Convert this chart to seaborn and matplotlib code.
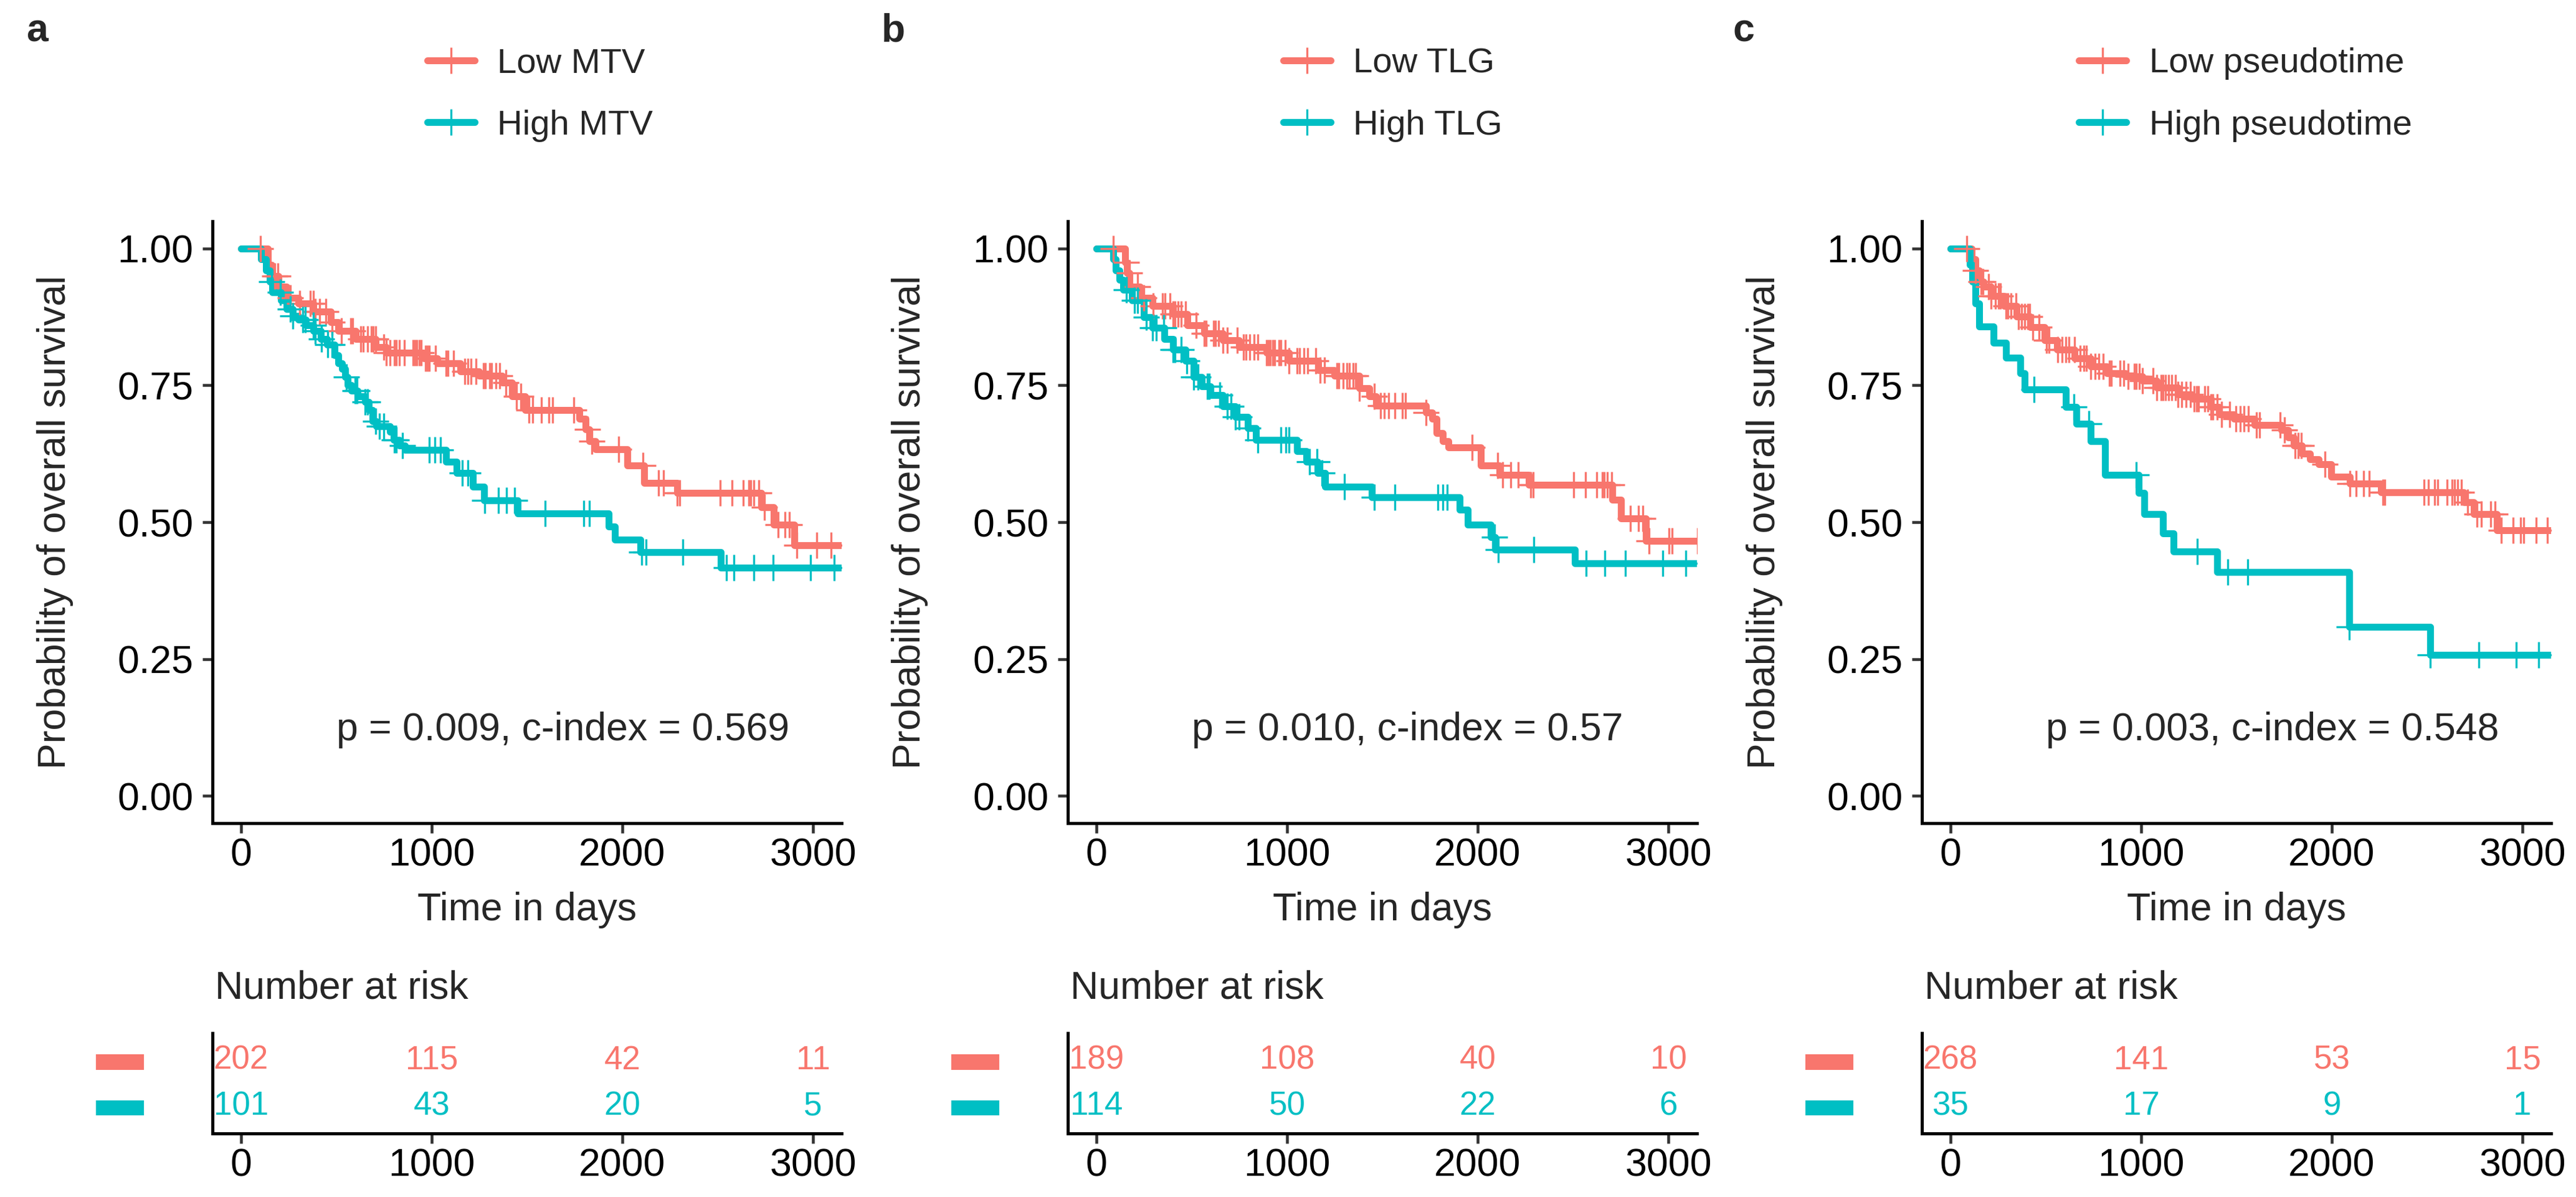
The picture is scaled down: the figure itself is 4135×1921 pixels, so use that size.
import numpy as np
import matplotlib
matplotlib.use("Agg")
import matplotlib.pyplot as plt
import matplotlib.transforms as mtransforms
from matplotlib.patches import Rectangle
from matplotlib.lines import Line2D
import seaborn as sns

sns.set_theme(style="ticks")
plt.rcParams["font.family"] = ["Liberation Sans", "DejaVu Sans"]

RED = "#F8766D"
TEAL = "#00BFC4"

# ---------------- data ----------------
panel_letters = ["a", "b", "c"]
low_labels = ["Low MTV", "Low TLG", "Low pseudotime"]
high_labels = ["High MTV", "High TLG", "High pseudotime"]
pval_texts = ["p = 0.009, c-index = 0.569",
              "p = 0.010, c-index = 0.57",
              "p = 0.003, c-index = 0.548"]
follow_up_end = 3200

# Panel a
a_low_t = [0, 140, 160, 195, 240, 300, 380, 470, 510, 600, 706, 760, 956, 1031, 1151, 1250, 1370,
           1423, 1489, 1773, 1806, 1828, 1861, 2025, 2113, 2289, 2729, 2795, 2902]
a_low_s = [1.0, 0.97, 0.95, 0.93, 0.91, 0.90, 0.885, 0.865, 0.85, 0.835, 0.82, 0.81, 0.80, 0.79, 0.775,
           0.768, 0.755, 0.73, 0.705, 0.689, 0.670, 0.648, 0.633, 0.604, 0.572, 0.553, 0.527, 0.496, 0.458]
a_low_cens = [102, 178, 194, 260, 309, 363, 379, 390, 412, 444, 477, 526, 575, 586, 629, 640, 662, 684,
              694, 705, 749, 760, 781, 803, 814, 830, 857, 901, 912, 923, 934, 944, 966, 977, 988, 1020,
              1075, 1086, 1113, 1173, 1189, 1205, 1232, 1270, 1281, 1303, 1314, 1336, 1357, 1390, 1444,
              1466, 1510, 1531, 1575, 1613, 1635, 1745, 1817, 1839, 1981, 2107, 2190, 2217, 2289, 2300,
              2514, 2574, 2635, 2662, 2673, 2690, 2717, 2744, 2816, 2854, 2876, 2915, 3019, 3096, 3167]
a_high_t = [0, 105, 130, 150, 165, 210, 240, 270, 300, 340, 380, 420, 450, 490, 510, 530, 545, 560, 580,
            610, 650, 670, 690, 710, 780, 800, 830, 860, 1075, 1130, 1215, 1275, 1450, 1927, 1960, 2095, 2517]
a_high_s = [1.0, 0.98, 0.96, 0.94, 0.92, 0.905, 0.89, 0.877, 0.87, 0.86, 0.85, 0.835, 0.825, 0.805, 0.79,
            0.78, 0.765, 0.75, 0.74, 0.73, 0.72, 0.705, 0.685, 0.675, 0.665, 0.65, 0.64, 0.632, 0.61, 0.59,
            0.565, 0.54, 0.516, 0.492, 0.468, 0.445, 0.417]
a_high_cens = [162, 205, 260, 271, 325, 336, 379, 390, 423, 455, 477, 553, 597, 607, 651, 662, 705, 727,
               749, 803, 815, 847, 988, 1015, 1047, 1161, 1190, 1278, 1350, 1392, 1435, 1595, 1797, 1826,
               2100, 2123, 2316, 2546, 2585, 2690, 2791, 2987, 3110]
a_risk_low = [202, 115, 42, 11]
a_risk_high = [101, 43, 20, 5]

# Panel b
b_low_t = [0, 150, 160, 175, 228, 293, 402, 478, 565, 663, 750, 891, 1010, 1163, 1250, 1380, 1430, 1467,
           1730, 1763, 1785, 1818, 1845, 2015, 2114, 2268, 2707, 2751, 2883]
b_low_s = [1.0, 0.975, 0.955, 0.93, 0.91, 0.895, 0.88, 0.86, 0.845, 0.832, 0.82, 0.81, 0.795, 0.778, 0.768,
           0.745, 0.73, 0.713, 0.70, 0.689, 0.663, 0.648, 0.637, 0.604, 0.587, 0.568, 0.541, 0.507, 0.466]
b_low_cens = [87, 158, 174, 217, 250, 299, 348, 359, 386, 402, 413, 429, 446, 467, 522, 565, 576, 614, 625,
              641, 663, 685, 739, 772, 783, 804, 826, 848, 891, 902, 913, 924, 935, 956, 967, 989, 1011,
              1054, 1065, 1087, 1109, 1152, 1173, 1195, 1261, 1272, 1293, 1315, 1326, 1348, 1359, 1380,
              1456, 1489, 1511, 1532, 1565, 1603, 1620, 1730, 1971, 2103, 2130, 2174, 2213, 2279, 2290,
              2504, 2564, 2625, 2652, 2663, 2680, 2701, 2800, 2844, 2866, 2899, 3003, 3020, 3152]
b_high_t = [0, 87, 100, 120, 141, 185, 250, 293, 358, 402, 467, 511, 554, 598, 663, 728, 793, 837, 1054,
            1100, 1160, 1200, 1445, 1905, 1949, 2070, 2092, 2509]
b_high_s = [1.0, 0.98, 0.96, 0.943, 0.925, 0.905, 0.875, 0.855, 0.835, 0.815, 0.795, 0.765, 0.748, 0.732,
            0.712, 0.692, 0.672, 0.65, 0.63, 0.61, 0.59, 0.565, 0.546, 0.523, 0.496, 0.473, 0.45, 0.425]
b_high_cens = [158, 201, 217, 261, 293, 315, 353, 402, 413, 446, 473, 511, 533, 581, 592, 647, 685, 706,
               728, 750, 793, 848, 967, 994, 1011, 1119, 1157, 1183, 1300, 1458, 1565, 1790, 1818, 1840,
               2087, 2109, 2295, 2570, 2668, 2773, 2970, 3091]
b_risk_low = [189, 108, 40, 10]
b_risk_high = [114, 50, 22, 6]

# Panel c
c_low_t = [0, 110, 130, 150, 175, 214, 280, 345, 420, 495, 560, 650, 735, 820, 920, 1007, 1083, 1192,
           1268, 1366, 1410, 1486, 1594, 1735, 1770, 1800, 1844, 1887, 1931, 1996, 2094, 2257, 2692,
           2746, 2866]
c_low_s = [1.0, 0.98, 0.96, 0.94, 0.93, 0.913, 0.895, 0.876, 0.856, 0.832, 0.815, 0.799, 0.785, 0.772,
           0.766, 0.758, 0.746, 0.734, 0.726, 0.711, 0.697, 0.689, 0.678, 0.669, 0.655, 0.64, 0.625, 0.615,
           0.606, 0.583, 0.571, 0.555, 0.536, 0.515, 0.485]
c_low_cens = [84, 132, 160, 171, 198, 214, 236, 252, 263, 290, 301, 317, 344, 355, 372, 388, 404, 415,
              431, 464, 502, 518, 562, 584, 605, 622, 649, 681, 698, 714, 736, 757, 779, 801, 833, 844,
              888, 910, 931, 964, 975, 991, 1007, 1062, 1083, 1105, 1116, 1127, 1143, 1160, 1181, 1192,
              1214, 1236, 1258, 1279, 1290, 1301, 1334, 1350, 1366, 1377, 1399, 1421, 1464, 1496, 1518,
              1540, 1562, 1605, 1621, 1730, 1752, 1806, 1822, 1839, 1964, 2094, 2127, 2165, 2197, 2268,
              2279, 2485, 2507, 2540, 2556, 2605, 2632, 2643, 2659, 2681, 2713, 2762, 2784, 2833, 2855,
              2887, 2952, 2991, 3007, 3072, 3132]
c_high_t = [0, 100, 115, 130, 150, 225, 290, 366, 388, 605, 660, 736, 812, 986, 1018, 1116, 1170, 1399,
            2091, 2517]
c_high_s = [1.0, 0.97, 0.94, 0.90, 0.858, 0.828, 0.801, 0.772, 0.742, 0.711, 0.680, 0.648, 0.587, 0.554,
            0.515, 0.48, 0.447, 0.409, 0.309, 0.257]
c_high_cens = [437, 647, 727, 975, 1293, 1453, 1558, 2091, 2517, 2770, 2966, 3085]
c_risk_low = [268, 141, 53, 15]
c_risk_high = [35, 17, 9, 1]

risk_times = [0, 1000, 2000, 3000]
x_ticks = [0, 1000, 2000, 3000]
y_ticks = [0.0, 0.25, 0.50, 0.75, 1.00]
y_ticklabels = ["0.00", "0.25", "0.50", "0.75", "1.00"]

# ---------------- layout ----------------
W, H = 4135, 1921
DPI = 300
fig = plt.figure(figsize=(W / DPI, H / DPI), dpi=DPI)


def rect(left, top, width, height):
    return [left / W, 1 - (top + height) / H, width / W, height / H]


offsets = [0, 1373, 2744]
legend_x = [686, 2060, 3337]
letter_x = [42, 1415, 2782]

panels = [
    (a_low_t, a_low_s, a_low_cens, a_high_t, a_high_s, a_high_cens, a_risk_low, a_risk_high),
    (b_low_t, b_low_s, b_low_cens, b_high_t, b_high_s, b_high_cens, b_risk_low, b_risk_high),
    (c_low_t, c_low_s, c_low_cens, c_high_t, c_high_s, c_high_cens, c_risk_low, c_risk_high),
]

LW = 2.65
MS = 10.3
MEW = 0.8
XLIM = (-150, 3150)
TICK_LEN = 3.8


def step_value(ts, ss, q):
    idx = np.searchsorted(np.asarray(ts), np.asarray(q), side="right") - 1
    return np.asarray(ss)[idx]


for i, (lt, ls, lc, ht, hs, hc, rl, rh) in enumerate(panels):
    off = offsets[i]
    ax = fig.add_axes(rect(341 + off, 355, 1010, 966))
    # curves
    for ts, ss, col in [(lt, ls, RED), (ht, hs, TEAL)]:
        xs = list(ts) + [follow_up_end]
        ys = list(ss) + [ss[-1]]
        sns.lineplot(x=xs, y=ys, drawstyle="steps-post", color=col, lw=LW, ax=ax,
                     estimator=None, sort=False, legend=False)
    for ts, ss, cs, col in [(lt, ls, lc, RED), (ht, hs, hc, TEAL)]:
        cy = step_value(ts, ss, cs)
        ax.plot(cs, cy, linestyle="none", marker="+", ms=MS, mew=MEW, color=col)
    ax.set_xlim(*XLIM)
    ax.set_ylim(-0.05, 1.05)
    ax.set_xticks(x_ticks)
    ax.set_yticks(y_ticks)
    ax.set_yticklabels(y_ticklabels)
    ax.tick_params(axis="both", labelsize=15, length=TICK_LEN, width=1.1, color="#333333",
                   labelcolor="black")
    ax.tick_params(axis="x", pad=1.5)
    ax.tick_params(axis="y", pad=3.6)
    sns.despine(ax=ax)
    for sp in ["left", "bottom"]:
        ax.spines[sp].set_linewidth(1.2)
        ax.spines[sp].set_color("black")
    ax.set_xlabel("Time in days", fontsize=15)
    ax.set_ylabel("Probability of overall survival", fontsize=15)
    ax.xaxis.label.set_va("center")
    ax.xaxis.set_label_coords(0.5, (1321 - 1460) / 966)
    ax.yaxis.label.set_va("center")
    ax.yaxis.set_label_coords((88 - 341) / 1010, 0.5)
    ax.text(500, 0.12, pval_texts[i], ha="left", va="center", fontsize=15)

    # legend
    handles = [Line2D([0], [0], color=RED, lw=LW, marker="+", ms=MS, mew=MEW),
               Line2D([0], [0], color=TEAL, lw=LW, marker="+", ms=MS, mew=MEW)]
    fig.legend(handles, [low_labels[i], high_labels[i]], loc="center left",
               bbox_to_anchor=(legend_x[i] / W, 1 - 152 / H), frameon=False, fontsize=13.5,
               handlelength=1.35, handletextpad=0.65, labelspacing=0.84, borderpad=0,
               borderaxespad=0)

    # panel letter
    fig.text(letter_x[i] / W, 1 - 50 / H, panel_letters[i], fontsize=15, fontweight="bold",
             ha="left", va="center")

    # risk table
    rax = fig.add_axes(rect(341 + off, 1658, 1010, 161))
    rax.set_xlim(*XLIM)
    rax.set_ylim(0.4, 2.6)
    for t, n in zip(risk_times, rl):
        rax.text(t, 2, str(n), color=RED, ha="center", va="center", fontsize=12.7)
    for t, n in zip(risk_times, rh):
        rax.text(t, 1, str(n), color=TEAL, ha="center", va="center", fontsize=12.7)
    rax.set_xticks(x_ticks)
    rax.set_yticks([])
    rax.tick_params(axis="x", labelsize=15, length=TICK_LEN, width=1.1, color="#333333",
                    labelcolor="black", pad=1.5)
    sns.despine(ax=rax)
    for sp in ["left", "bottom"]:
        rax.spines[sp].set_linewidth(1.2)
        rax.spines[sp].set_color("black")
    rax.text(0.004, (1819 - 1586) / 161, "Number at risk", transform=rax.transAxes,
             ha="left", va="center", fontsize=15)
    trans = mtransforms.blended_transform_factory(rax.transAxes, rax.transData)
    for yrow, col in [(2, RED), (1, TEAL)]:
        rax.add_patch(Rectangle((-0.185, yrow - 0.2), 0.076, 0.33, transform=trans,
                                facecolor=col, edgecolor="none", clip_on=False))

fig.savefig("out.png", dpi=DPI)
